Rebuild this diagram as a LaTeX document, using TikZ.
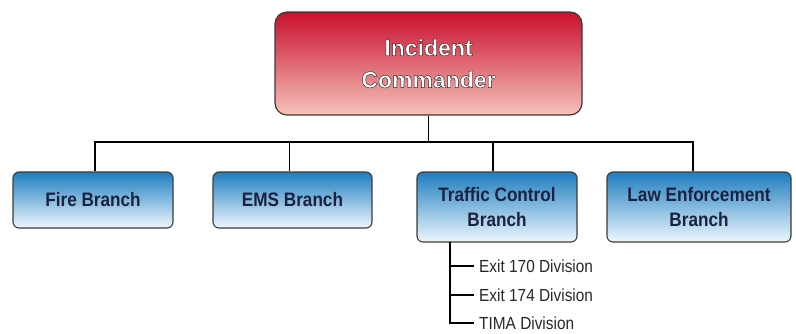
\documentclass[tikz,border=0pt]{standalone}
\usepackage{fontspec}
\setmainfont{Liberation Sans}
\definecolor{navytext}{HTML}{1B2240}
\definecolor{redtop}{HTML}{C8102E}
\definecolor{redbot}{HTML}{F6C2BA}
\definecolor{bluetop}{HTML}{1E7DBF}
\definecolor{bluebot}{HTML}{EEF7FC}
\definecolor{edgegrey}{HTML}{3A3A3A}
\newcommand\outlinedtext[1]{{\color{white}\special{pdf:literal direct 2 Tr 0.45 w 0.15 0.15 0.15 RG}#1\special{pdf:literal direct 0 Tr}}}
\tikzset{
  topbox/.style={draw=edgegrey, line width=1.2pt, rounded corners=12pt,
    top color=redtop, bottom color=redbot, minimum width=307pt, minimum height=103pt,
    align=center, font=\fontsize{23}{32}\selectfont\bfseries},
  branchbox/.style={draw=edgegrey, line width=1.1pt, rounded corners=6pt,
    top color=bluetop, bottom color=bluebot, align=center, text=navytext,
    font=\fontsize{19.5}{25}\selectfont\bfseries},
  divlabel/.style={anchor=west, inner sep=5pt, font=\fontsize{17.5}{19}\selectfont, text=black!85},
  conn/.style={draw=black, line width=1.8pt}
}
\begin{document}
\begin{tikzpicture}[x=1pt,y=-1pt]
\useasboundingbox (0,0) rectangle (796,333);
\node[topbox] (ic) at (428.5,63.5) {\outlinedtext{Incident}\\\outlinedtext{Commander}};
\node[branchbox, minimum width=160pt, minimum height=56pt] (fire) at (93,200) {\scalebox{0.88}[1]{Fire Branch}};
\node[branchbox, minimum width=159pt, minimum height=56pt] (ems) at (292.5,200) {\scalebox{0.88}[1]{EMS Branch}};
\node[branchbox, minimum width=160pt, minimum height=70pt] (tc) at (497,207) {\scalebox{0.88}[1]{Traffic Control}\\\scalebox{0.88}[1]{Branch}};
\node[branchbox, minimum width=184pt, minimum height=70pt] (law) at (699,207) {\scalebox{0.88}[1]{Law Enforcement}\\\scalebox{0.88}[1]{Branch}};
\coordinate (bus) at (426,142);
\coordinate (trunk) at (450,242);
\node[divlabel] (d1) at (474,266) {\scalebox{0.88}[1]{Exit 170 Division}};
\node[divlabel] (d2) at (474,295) {\scalebox{0.88}[1]{Exit 174 Division}};
\node[divlabel] (d3) at (474,323) {\scalebox{0.88}[1]{TIMA Division}};
\draw[conn] (ic.south) -- (ic.south |- bus);
\draw[conn] ([xshift=2pt]fire.north) -- ([xshift=2pt]fire.north |- bus) -- ([xshift=-6pt]law.north |- bus) -- ([xshift=-6pt]law.north);
\draw[conn] ([xshift=-3pt]ems.north) -- ([xshift=-3pt]ems.north |- bus);
\draw[conn] ([xshift=-4pt]tc.north) -- ([xshift=-4pt]tc.north |- bus);
\draw[conn] (trunk) |- (d3.west);
\draw[conn] (trunk |- d1.west) -- (d1.west);
\draw[conn] (trunk |- d2.west) -- (d2.west);
\end{tikzpicture}
\end{document}
